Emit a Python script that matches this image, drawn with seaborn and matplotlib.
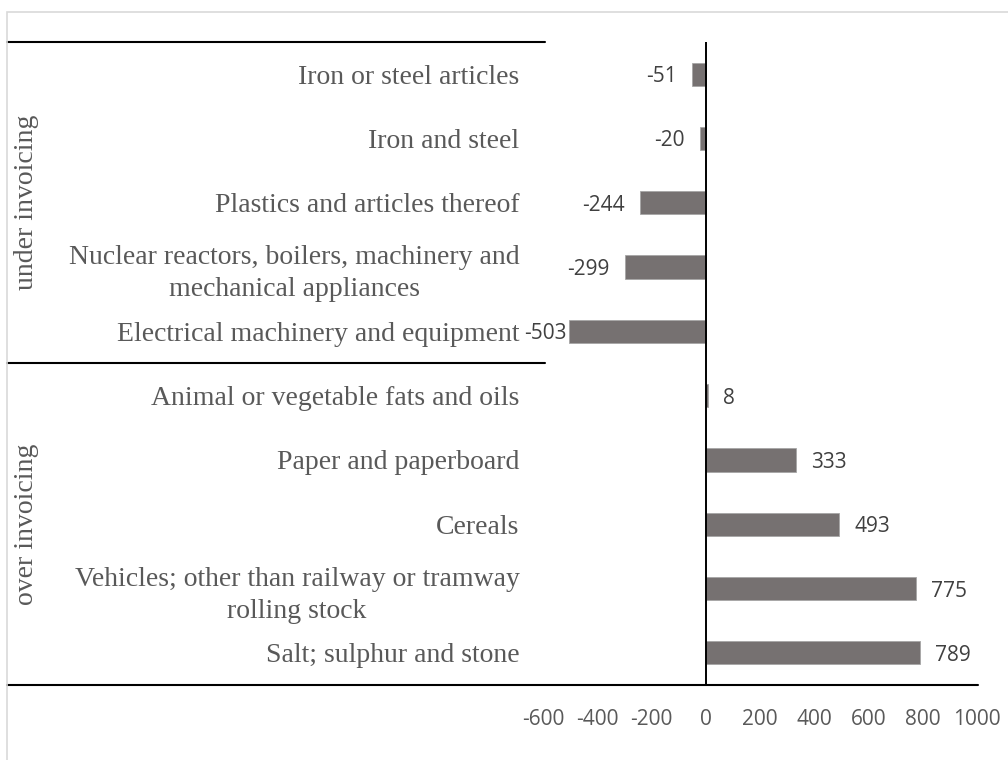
"""
Over / under invoicing by product group - horizontal bar chart
"""

import pandas as pd
import matplotlib.pyplot as plt
import seaborn as sns
from matplotlib.patches import Rectangle
from matplotlib.transforms import blended_transform_factory

# data (top to bottom as shown in the chart)
categories = [
    'Iron or steel articles',
    'Iron and steel',
    'Plastics and articles thereof',
    'Nuclear reactors, boilers, machinery and\nmechanical appliances',
    'Electrical machinery and equipment',
    'Animal or vegetable fats and oils',
    'Paper and paperboard',
    'Cereals',
    'Vehicles; other than railway or tramway\nrolling stock',
    'Salt; sulphur and stone',
]
values = [-51, -20, -244, -299, -503, 8, 333, 493, 775, 789]
group_names = ['under invoicing', 'over invoicing']
group_sizes = [5, 5]
x_ticks = [-600, -400, -200, 0, 200, 400, 600, 800, 1000]

sns.set_style("white")
SERIF = 'Liberation Serif'
SANS = 'Open Sans'
TEXT_GREY = '#595959'
BAR_GREY = '#767171'

W, H = 1008, 760
fig = plt.figure(figsize=(W / 100, H / 100), dpi=100)
ax = fig.add_axes([543 / W, 1 - 685 / H, (977 - 543) / W, (685 - 42) / H])

df = pd.DataFrame({'category': categories, 'value': values})
sns.barplot(data=df, x='value', y='category', orient='h', color=BAR_GREY,
            width=0.36, saturation=1, edgecolor='#a6a6a6', linewidth=0.6, ax=ax)

ax.set_xlim(x_ticks[0], x_ticks[-1])
ax.set_ylim(len(categories) - 0.5, -0.5)
ax.set_xticks(x_ticks)
ax.set_xticklabels([str(t) for t in x_ticks], fontsize=15, family=SANS, color=TEXT_GREY)
ax.set_yticks(range(len(categories)))
ax.set_yticklabels(categories, fontsize=20, family=SERIF, color=TEXT_GREY)
for t in ax.get_yticklabels():
    t.set_multialignment('center')
    t.set_linespacing(1.38)
ax.tick_params(axis='y', length=0, pad=17)
ax.tick_params(axis='x', length=0, pad=17)
ax.set_xlabel('')
ax.set_ylabel('')
for s in ax.spines.values():
    s.set_visible(False)
ax.axvline(0, color='black', lw=1.4, zorder=3)

# value labels
for i, v in enumerate(values):
    if v >= 0:
        ax.annotate(str(v), (v, i), xytext=(11, 0), textcoords='offset points',
                    ha='left', va='center_baseline', fontsize=15, family=SANS, color='#404040')
    else:
        pad = 2 if v < -450 else 11
        ax.annotate(str(v), (v, i), xytext=(-pad, 0), textcoords='offset points',
                    ha='right', va='center_baseline', fontsize=15, family=SANS, color='#404040')

# multi-level category axis: separators and group labels
tr = blended_transform_factory(fig.transFigure, ax.transData)
left_x = 7 / W
ax.plot([left_x, 545 / W], [-0.5, -0.5], color='black', lw=1.5, transform=tr, clip_on=False)
start = 0
for name, size in zip(group_names, group_sizes):
    end = start + size
    right_x = 978 / W if end == len(categories) else 545 / W
    ax.plot([left_x, right_x], [end - 0.5, end - 0.5], color='black', lw=1.5,
            transform=tr, clip_on=False)
    ax.text(27 / W, (start + end - 1) / 2, name, transform=tr, rotation=90,
            ha='center', va='center', fontsize=20, family=SERIF, color=TEXT_GREY)
    start = end

# chart area border
fig.add_artist(Rectangle((7 / W, -0.1), 1.2, 1 - 12 / H + 0.1, transform=fig.transFigure,
                         fill=False, edgecolor='#d9d9d9', lw=1.2))

fig.savefig('out.png', dpi=100)
